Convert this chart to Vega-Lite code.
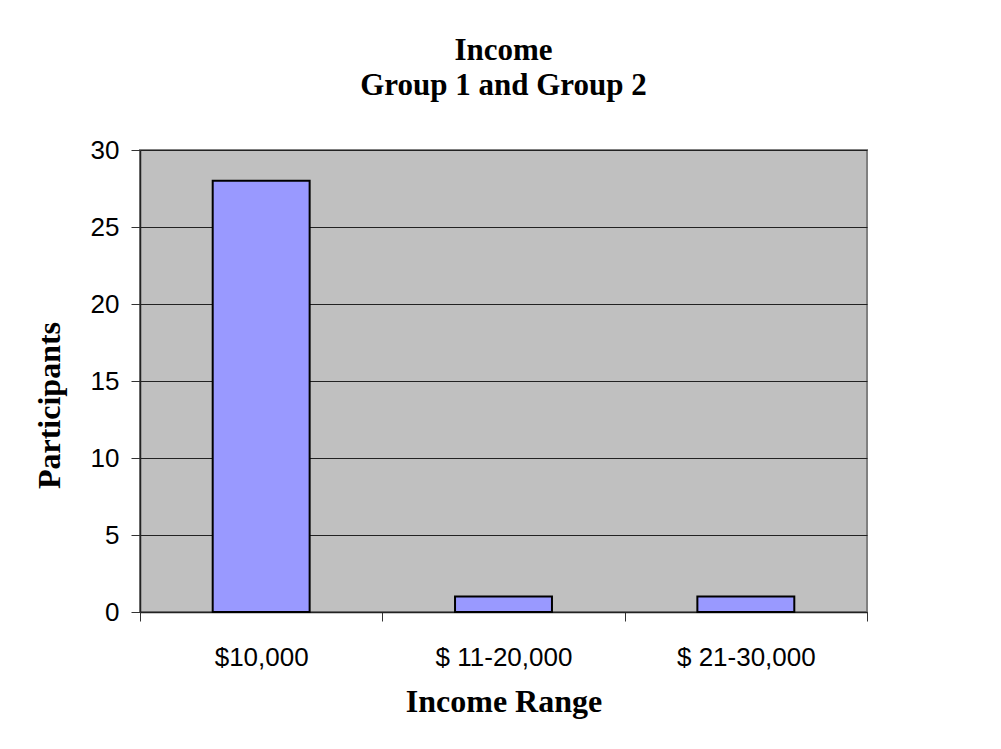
{
  "$schema": "https://vega.github.io/schema/vega-lite/v6.json",
  "width": 727,
  "height": 462,
  "autosize": {"type": "none"},
  "padding": {"left": 140, "top": 150, "right": 134, "bottom": 137},
  "background": "white",
  "data": {
    "values": [
      {"range": "$10,000", "participants": 28},
      {"range": "$ 11-20,000", "participants": 1},
      {"range": "$ 21-30,000", "participants": 1}
    ]
  },
  "title": {
    "text": ["Income", "Group 1 and Group 2"],
    "font": "Liberation Serif",
    "fontSize": 31,
    "fontWeight": "bold",
    "color": "black",
    "anchor": "middle",
    "lineHeight": 35,
    "offset": 35
  },
  "mark": {"type": "bar", "fill": "#9999FF", "stroke": "black", "strokeWidth": 2, "width": {"band": 0.4}},
  "encoding": {
    "x": {
      "field": "range",
      "type": "nominal",
      "sort": null,
      "scale": {"paddingInner": 0, "paddingOuter": 0},
      "axis": {
        "title": "Income Range",
        "titleFont": "Liberation Serif",
        "titleFontSize": 32,
        "titleFontWeight": "bold",
        "titleColor": "black",
        "titleY": 99,
        "titleBaseline": "alphabetic",
        "labelFont": "Liberation Sans",
        "labelFontSize": 26,
        "labelColor": "black",
        "labelAngle": 0,
        "labelPadding": 23,
        "tickBand": "extent",
        "tickSize": 9,
        "tickColor": "#333333",
        "tickWidth": 1,
        "domainColor": "#222222",
        "domainWidth": 1.5
      }
    },
    "y": {
      "field": "participants",
      "type": "quantitative",
      "scale": {"domain": [0, 30], "nice": false},
      "axis": {
        "title": "Participants",
        "titleFont": "Liberation Serif",
        "titleFontSize": 32,
        "titleFontWeight": "bold",
        "titleColor": "black",
        "titleX": -81,
        "titleY": 255,
        "titleAngle": -90,
        "titleAlign": "center",
        "titleBaseline": "alphabetic",
        "values": [0, 5, 10, 15, 20, 25, 30],
        "labelFont": "Liberation Sans",
        "labelFontSize": 26,
        "labelColor": "black",
        "labelPadding": 12,
        "tickSize": 9,
        "tickColor": "#333333",
        "domainColor": "#222222",
        "domainWidth": 1.5,
        "grid": true,
        "gridColor": "#222222",
        "gridWidth": 1,
        "gridOpacity": 1
      }
    }
  },
  "config": {
    "view": {"fill": "#C0C0C0", "stroke": "#808080", "strokeWidth": 2}
  }
}
